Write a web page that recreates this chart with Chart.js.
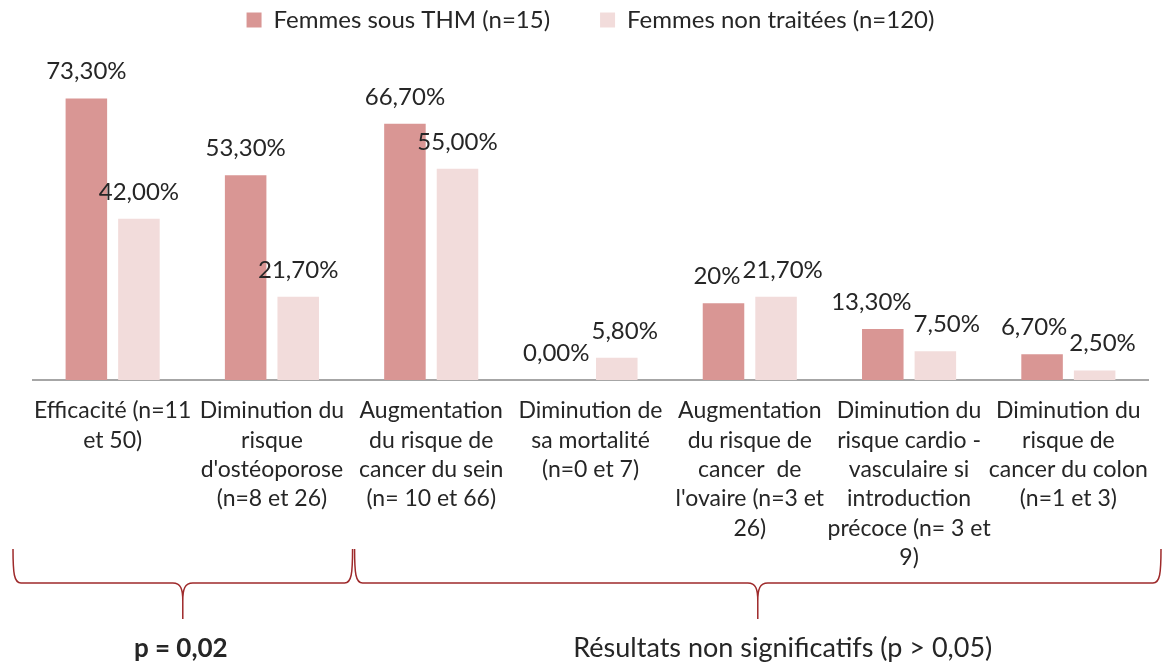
<!DOCTYPE html>
<html lang="fr">
<head>
<meta charset="utf-8">
<script src="https://cdn.jsdelivr.net/npm/chart.js@4.4.1/dist/chart.umd.min.js"></script>
<style>
  html, body { margin: 0; padding: 0; background: #fff; }
  #wrap { width: 1162px; height: 664px; position: relative; }
</style>
</head>
<body>
<div id="wrap"><canvas id="myChart"></canvas></div>
<script>
const categories = [
  ["Efficacité (n=11", "et 50)"],
  ["Diminution du", "risque", "d'ostéoporose", "(n=8 et 26)"],
  ["Augmentation", "du risque de", "cancer du sein", "(n= 10 et 66)"],
  ["Diminution de", "sa mortalité", "(n=0 et 7)"],
  ["Augmentation", "du risque de", "cancer  de", "l'ovaire (n=3 et", "26)"],
  ["Diminution du", "risque cardio -", "vasculaire si", "introduction", "précoce (n= 3 et", "9)"],
  ["Diminution du", "risque de", "cancer du colon", "(n=1 et 3)"]
];
const seriesNames = ["Femmes sous THM (n=15)", "Femmes non traitées (n=120)"];
const thmValues = [73.3, 53.3, 66.7, 0, 20, 13.3, 6.7];
const untreatedValues = [42, 21.7, 55, 5.8, 21.7, 7.5, 2.5];
const thmLabels = ["73,30%", "53,30%", "66,70%", "0,00%", "20%", "13,30%", "6,70%"];
const untreatedLabels = ["42,00%", "21,70%", "55,00%", "5,80%", "21,70%", "7,50%", "2,50%"];
const groups = [
  { from: 0, to: 1, text: "p = 0,02", bold: true, textDx: -2 },
  { from: 2, to: 6, text: "Résultats non significatifs (p > 0,05)", bold: false, textDx: 25 }
];

const textColor = "#262626";

// value labels above each bar, pushed apart when the pair would overlap
const valueLabels = {
  id: "valueLabels",
  afterDatasetsDraw(chart) {
    const ctx = chart.ctx;
    const texts = [thmLabels, untreatedLabels];
    const m0 = chart.getDatasetMeta(0).data;
    const m1 = chart.getDatasetMeta(1).data;
    ctx.save();
    ctx.font = "24px Lato";
    ctx.fillStyle = textColor;
    ctx.textAlign = "center";
    ctx.textBaseline = "alphabetic";
    m0.forEach((bar, j) => {
      const other = m1[j];
      let xa = bar.x, xb = other.x;
      const ya = bar.y - 19, yb = other.y - 19;
      const wa = ctx.measureText(texts[0][j]).width;
      const wb = ctx.measureText(texts[1][j]).width;
      const overlap = (xa + wa / 2) - (xb - wb / 2) + 2;
      if (overlap > 0 && Math.abs(ya - yb) < 24) {
        xa -= overlap / 2;
        xb += overlap / 2;
      }
      ctx.fillText(texts[0][j], xa, ya);
      ctx.fillText(texts[1][j], xb, yb);
    });
    ctx.restore();
  }
};

// curly braces grouping the categories, with the p-value text
const braces = {
  id: "braces",
  afterDraw(chart) {
    const x = chart.scales.x;
    const ctx = chart.ctx;
    const step = x.width / categories.length;
    const base = chart.chartArea.bottom;
    const yTop = base + 169, yMid = base + 203, yTip = base + 239;
    ctx.save();
    ctx.strokeStyle = "#9E2A2B";
    ctx.lineWidth = 1.5;
    groups.forEach((g, k) => {
      let x0 = x.getPixelForValue(g.from) - step / 2;
      let x1 = x.getPixelForValue(g.to) + step / 2;
      if (k === 0) { x0 -= 20; x1 += 1; } else { x0 += 3; x1 += 13; }
      const cx = (x0 + x1) / 2;
      ctx.beginPath();
      ctx.moveTo(x0, yTop);
      ctx.bezierCurveTo(x0, yMid - 10, x0 + 1, yMid, x0 + 8, yMid);
      ctx.lineTo(cx - 10, yMid);
      ctx.bezierCurveTo(cx - 2, yMid, cx, yMid + 6, cx, yMid + 18);
      ctx.lineTo(cx, yTip);
      ctx.moveTo(cx, yMid + 18);
      ctx.bezierCurveTo(cx, yMid + 6, cx + 2, yMid, cx + 10, yMid);
      ctx.lineTo(x1 - 8, yMid);
      ctx.bezierCurveTo(x1 - 1, yMid, x1, yMid - 10, x1, yTop);
      ctx.stroke();

      ctx.fillStyle = textColor;
      ctx.textAlign = "center";
      ctx.textBaseline = "alphabetic";
      ctx.font = (g.bold ? "bold 26px" : "27px") + " Lato";
      ctx.fillText(g.text, cx + g.textDx, base + 277);
    });
    ctx.restore();
  }
};

const config = {
  type: "bar",
  data: {
    labels: categories,
    datasets: [
      {
        label: seriesNames[0],
        data: thmValues,
        backgroundColor: "#D99694",
        categoryPercentage: 0.66,
        barPercentage: 0.79
      },
      {
        label: seriesNames[1],
        data: untreatedValues,
        backgroundColor: "#F2DCDB",
        categoryPercentage: 0.66,
        barPercentage: 0.79
      }
    ]
  },
  options: {
    responsive: true,
    maintainAspectRatio: false,
    animation: false,
    layout: {
      padding: { left: 33, right: 14, top: -42, bottom: 0 }
    },
    plugins: {
      legend: {
        position: "top",
        labels: {
          color: textColor,
          font: { family: "Lato", size: 24 },
          boxWidth: 15,
          boxHeight: 15,
          padding: 50
        }
      },
      tooltip: { enabled: false }
    },
    scales: {
      x: {
        grid: { display: false, drawTicks: false },
        border: { display: true, color: "#A6A6A6", width: 2 },
        ticks: {
          color: textColor,
          font: { family: "Lato", size: 23, lineHeight: 1.28 },
          padding: 16,
          autoSkip: false,
          maxRotation: 0
        },
        afterFit(scale) {
          scale.height = 284;
          scale.paddingLeft = 0;
          scale.paddingRight = 0;
        }
      },
      y: {
        display: false,
        min: 0,
        max: 88
      }
    }
  },
  plugins: [valueLabels, braces]
};

const newChart = new Chart("myChart", config);
</script>
</body>
</html>
